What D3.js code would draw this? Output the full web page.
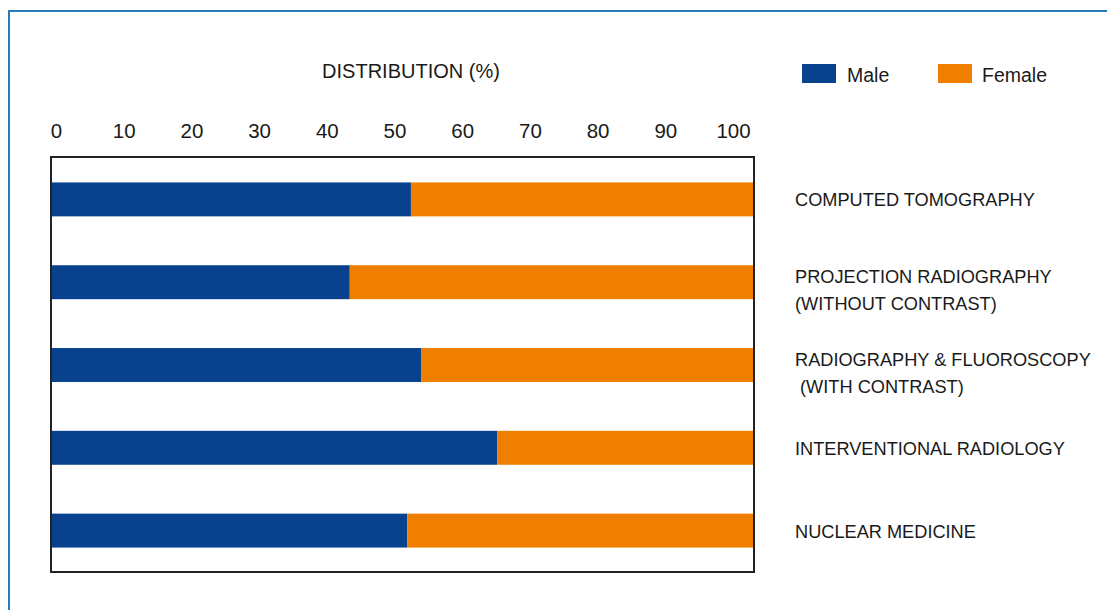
<!DOCTYPE html>
<html>
<head>
<meta charset="utf-8">
<script src="https://cdn.jsdelivr.net/npm/d3@7"></script>
<style>
  html, body { margin: 0; padding: 0; background: #ffffff; }
  svg { display: block; }
  text { font-family: "Liberation Sans", Arial, sans-serif; fill: #1a1a1a; }
</style>
</head>
<body>
<svg id="chart" width="1107" height="610"></svg>
<script>
// ---- data ----
const categories = [
  ["COMPUTED TOMOGRAPHY"],
  ["PROJECTION RADIOGRAPHY", "(WITHOUT CONTRAST)"],
  ["RADIOGRAPHY & FLUOROSCOPY", " (WITH CONTRAST)"],
  ["INTERVENTIONAL RADIOLOGY"],
  ["NUCLEAR MEDICINE"]
];
const maleValues = [51.2, 42.5, 52.7, 63.5, 50.7];
const femaleValues = [48.8, 57.5, 47.3, 36.5, 49.3];
const tickValues = [0, 10, 20, 30, 40, 50, 60, 70, 80, 90, 100];
const seriesNames = ["Male", "Female"];
const seriesColors = ["#08428f", "#f07f00"];
const axisTitle = "DISTRIBUTION (%)";

// ---- layout ----
const svg = d3.select("#chart");
const box = { left: 51, right: 754, top: 157, bottom: 572 };

// outer frame (partially off-canvas, as in the reference)
svg.append("rect")
  .attr("x", 9).attr("y", 11).attr("width", 1200).attr("height", 700)
  .attr("fill", "none").attr("stroke", "#2a7ab5").attr("stroke-width", 2);

const x = d3.scaleLinear().domain([0, 100]).range([box.left, box.right]);
// tick labels in the reference are set slightly inside the plot frame
const xLabel = d3.scaleLinear().domain([0, 100]).range([56, 733]);
const y = d3.scaleBand().domain(d3.range(categories.length))
  .range([box.top + 1, box.bottom]).paddingInner(0.59).paddingOuter(0.295);

const stackData = categories.map((c, i) => ({ i, Male: maleValues[i], Female: femaleValues[i] }));
const stack = d3.stack().keys(seriesNames)(stackData);
const color = d3.scaleOrdinal().domain(seriesNames).range(seriesColors);

// bars
svg.append("g").selectAll("g").data(stack).join("g")
  .attr("fill", d => color(d.key))
  .selectAll("rect").data(d => d).join("rect")
  .attr("x", d => x(d[0]))
  .attr("width", d => x(Math.min(d[1], 100)) - x(d[0]))
  .attr("y", d => y(d.data.i))
  .attr("height", y.bandwidth());

// plot frame
svg.append("rect")
  .attr("x", box.left).attr("y", box.top)
  .attr("width", box.right - box.left).attr("height", box.bottom - box.top)
  .attr("fill", "none").attr("stroke", "#222").attr("stroke-width", 2);

// top axis (labels only)
const axis = d3.axisTop(xLabel).tickValues(tickValues).tickSize(0).tickPadding(0)
  .tickFormat(d3.format("d"));
const gAxis = svg.append("g").attr("transform", "translate(0,138)").call(axis);
gAxis.select(".domain").remove();
gAxis.selectAll("text")
  .attr("font-family", "Liberation Sans, Arial, sans-serif")
  .attr("font-size", 20.5).attr("fill", "#1a1a1a").attr("dy", 0);

// axis title
svg.append("text")
  .attr("x", 411).attr("y", 78).attr("text-anchor", "middle")
  .attr("font-size", 20).text(axisTitle);

// category labels
const lab = svg.append("g").selectAll("text").data(categories).join("text")
  .attr("font-size", 18.2)
  .attr("x", 795)
  .attr("y", (d, i) => y(i) + y.bandwidth() / 2 + (d.length === 1 ? 7 : 1));
lab.selectAll("tspan").data(d => d).join("tspan")
  .attr("x", 795)
  .attr("dy", (d, j) => j === 0 ? 0 : 27)
  .text(d => d);

// legend
const legendX = [802, 938];
const leg = svg.append("g").selectAll("g").data(seriesNames).join("g")
  .attr("transform", (d, i) => `translate(${legendX[i]},64)`);
leg.append("rect").attr("width", 34).attr("height", 19).attr("fill", d => color(d));
leg.append("text").attr("x", (d, i) => i === 0 ? 45 : 44).attr("y", 18)
  .attr("font-size", 19.5).text(d => d);
</script>
</body>
</html>
